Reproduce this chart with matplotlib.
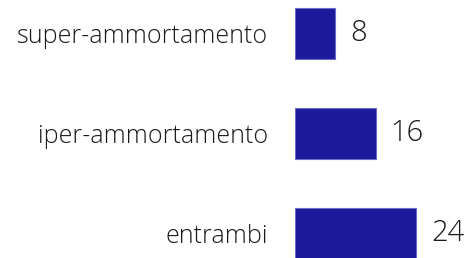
import matplotlib.pyplot as plt

categories = ["super-ammortamento", "iper-ammortamento", "entrambi"]
values = [8, 16, 24]

plt.rcParams['font.family'] = ['Open Sans', 'DejaVu Sans']

fig = plt.figure(figsize=(4.68, 2.58), dpi=100)
ax = fig.add_axes([295 / 468, 0, 173 / 468, 1])

pos = list(range(len(categories)))
bars = ax.barh(pos, values, height=0.51, color='#1a1a9a', edgecolor='#6a6ac8', linewidth=0.8)

ax.set_xlim(0, 173 / 5.04)
ax.set_ylim(2.245, -0.335)

ax.set_yticks(pos)
ax.set_yticklabels(categories, fontsize=18, fontweight='light', color='#1a1a1a')
ax.tick_params(axis='y', length=0, pad=19.4)
ax.set_xticks([])
for s in ax.spines.values():
    s.set_visible(False)

for b, v in zip(bars, values):
    ax.annotate(str(v), (b.get_width(), b.get_y() + b.get_height() / 2),
                xytext=(15, 0), textcoords='offset pixels', va='center', ha='left',
                fontsize=21, fontweight='light', color='#1a1a1a')

fig.savefig('out.png', dpi=100)
